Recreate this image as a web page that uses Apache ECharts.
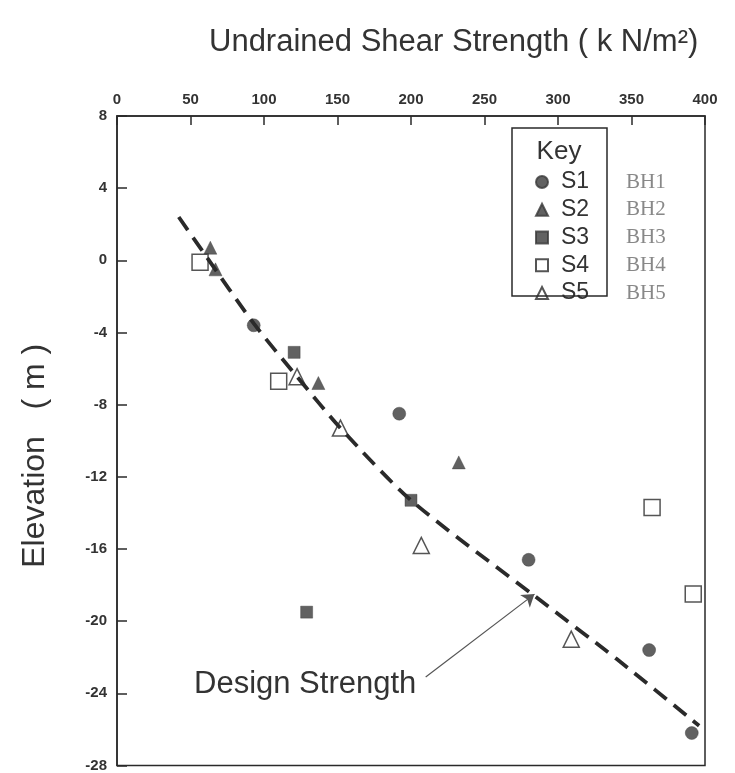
<!DOCTYPE html>
<html>
<head>
<meta charset="utf-8">
<script src="https://cdn.jsdelivr.net/npm/echarts@6/dist/echarts.min.js"></script>
<style>
html,body{margin:0;padding:0;background:#fff;}
#chart{width:735px;height:773px;}
</style>
</head>
<body>
<div id="chart"></div>
<script>
// ---- data ----
const xTicks = [0, 50, 100, 150, 200, 250, 300, 350, 400];
const yTicks = [8, 4, 0, -4, -8, -12, -16, -20, -24, -28];

const s1X = [93, 192, 280, 362, 391];
const s1Y = [-3.6, -8.5, -16.6, -21.6, -26.2];

const s2X = [63.5, 67, 137, 232.5];
const s2Y = [0.7, -0.5, -6.8, -11.2];

const s3X = [120.5, 200, 129];
const s3Y = [-5.1, -13.3, -19.5];

const s4X = [56.5, 110, 364, 392];
const s4Y = [-0.1, -6.7, -13.7, -18.5];

const s5X = [122.5, 152, 207, 309];
const s5Y = [-6.45, -9.3, -15.8, -21.0];

const designX = [42, 60, 93, 122, 152, 200, 284, 340, 396];
const designY = [2.4, 0.3, -3.5, -6.4, -9.3, -13.3, -18.6, -22.1, -25.8];

const seriesNames = ['S1', 'S2', 'S3', 'S4', 'S5'];
const boreholes = ['BH1', 'BH2', 'BH3', 'BH4', 'BH5'];
const annotationText = 'Design Strength';
const annotationTextPos = [128, -23.5];
const arrowFrom = [210, -23.1];
const arrowTo = [284, -18.5];

const titleText = 'Undrained Shear Strength ( k N/m\u00B2)';
const yName = 'Elevation   ( m )';

function zip(xs, ys) { return xs.map((x, i) => [x, ys[i]]); }

const ink = '#2a2a2a';
const markDark = '#3a3a3a';
const font = 'Liberation Sans, Arial, Helvetica, sans-serif';

const chart = echarts.init(document.getElementById('chart'));

const scatterDefs = [
  { name: 'S1', x: s1X, y: s1Y, symbol: 'circle', size: 13, filled: true },
  { name: 'S2', x: s2X, y: s2Y, symbol: 'triangle', size: 13, filled: true },
  { name: 'S3', x: s3X, y: s3Y, symbol: 'rect', size: 12, filled: true },
  { name: 'S4', x: s4X, y: s4Y, symbol: 'rect', size: 16, filled: false },
  { name: 'S5', x: s5X, y: s5Y, symbol: 'triangle', size: 16, filled: false }
];

const series = scatterDefs.map(d => ({
  name: d.name,
  type: 'scatter',
  data: zip(d.x, d.y),
  symbol: d.symbol,
  symbolSize: d.size,
  itemStyle: d.filled
    ? { color: markDark, borderColor: markDark, borderWidth: 0.5 }
    : { color: '#ffffff', borderColor: ink, borderWidth: 1.5 },
  z: 3
}));

series.push({
  name: 'Design Strength',
  type: 'line',
  data: zip(designX, designY),
  showSymbol: false,
  symbol: 'none',
  smooth: 0.25,
  lineStyle: { color: ink, width: 3.8, type: [16, 9] },
  z: 4,
  markLine: {
    silent: true,
    symbol: ['none', 'arrow'],
    symbolSize: 12,
    lineStyle: { type: 'solid', width: 1.2, color: '#555' },
    itemStyle: { color: '#555' },
    label: { show: false },
    data: [[{ coord: arrowFrom }, { coord: arrowTo }]]
  },
  markPoint: {
    silent: true,
    symbol: 'rect',
    symbolSize: 0,
    label: {
      show: true,
      position: 'inside',
      formatter: annotationText,
      fontSize: 31,
      color: '#333',
      fontFamily: font
    },
    data: [{ coord: annotationTextPos }]
  }
});

const rowY0 = 182;
const rowGap = 27.75;

const graphics = [
  {
    type: 'rect',
    shape: { x: 512, y: 128, width: 95, height: 168 },
    style: { fill: 'none', stroke: ink, lineWidth: 1.5 },
    z: 10
  },
  {
    type: 'text',
    x: 559, y: 152,
    style: {
      text: 'Key', fontSize: 26, fill: '#333',
      fontFamily: font,
      align: 'center', verticalAlign: 'middle'
    },
    z: 10
  }
];
boreholes.forEach((b, i) => {
  graphics.push({
    type: 'text',
    x: 626, y: rowY0 + i * rowGap,
    style: {
      text: b, fontSize: 21, fill: '#888',
      fontFamily: 'Liberation Serif, DejaVu Serif, serif',
      align: 'left', verticalAlign: 'middle'
    },
    z: 10
  });
});

chart.setOption({
  backgroundColor: '#ffffff',
  animation: false,
  title: {
    text: titleText,
    left: 204,
    top: 22,
    textStyle: {
      fontSize: 31, fontWeight: 'normal', color: '#333',
      fontFamily: font
    }
  },
  legend: {
    data: seriesNames,
    orient: 'vertical',
    left: 530,
    top: rowY0 - 5 - 11.5,
    itemWidth: 12,
    itemHeight: 12,
    itemGap: 4.75,
    selectedMode: false,
    textStyle: {
      fontSize: 23, color: '#333',
      fontFamily: font,
      padding: [0, 0, 0, 8]
    }
  },
  grid: {
    left: 117, right: 30, top: 116, bottom: 4,
    show: true, borderColor: ink, borderWidth: 1.5,
    containLabel: false
  },
  xAxis: {
    type: 'value',
    position: 'top',
    min: 0, max: 400, interval: 50,
    axisLine: { show: true, onZero: false, lineStyle: { color: ink, width: 1.5 } },
    axisTick: { show: true, inside: true, length: 9, lineStyle: { color: ink, width: 1.5 } },
    axisLabel: {
      margin: 9, fontSize: 15, fontWeight: 'bold', color: '#333',
      fontFamily: font,
      formatter: v => String(v)
    },
    splitLine: { show: false }
  },
  yAxis: {
    type: 'value',
    min: -28, max: 8, interval: 4,
    name: yName,
    nameLocation: 'middle',
    nameGap: 66,
    nameRotate: 90,
    nameTextStyle: {
      fontSize: 32, color: '#333',
      fontFamily: font,
      padding: [0, 30, 0, 0]
    },
    axisLine: { show: true, onZero: false, lineStyle: { color: ink, width: 1.5 } },
    axisTick: { show: true, inside: true, length: 10, lineStyle: { color: ink, width: 1.5 } },
    axisLabel: {
      margin: 10, fontSize: 15, fontWeight: 'bold', color: '#333',
      fontFamily: font,
      formatter: v => String(v)
    },
    splitLine: { show: false }
  },
  graphic: graphics,
  series: series
});
</script>
</body>
</html>
